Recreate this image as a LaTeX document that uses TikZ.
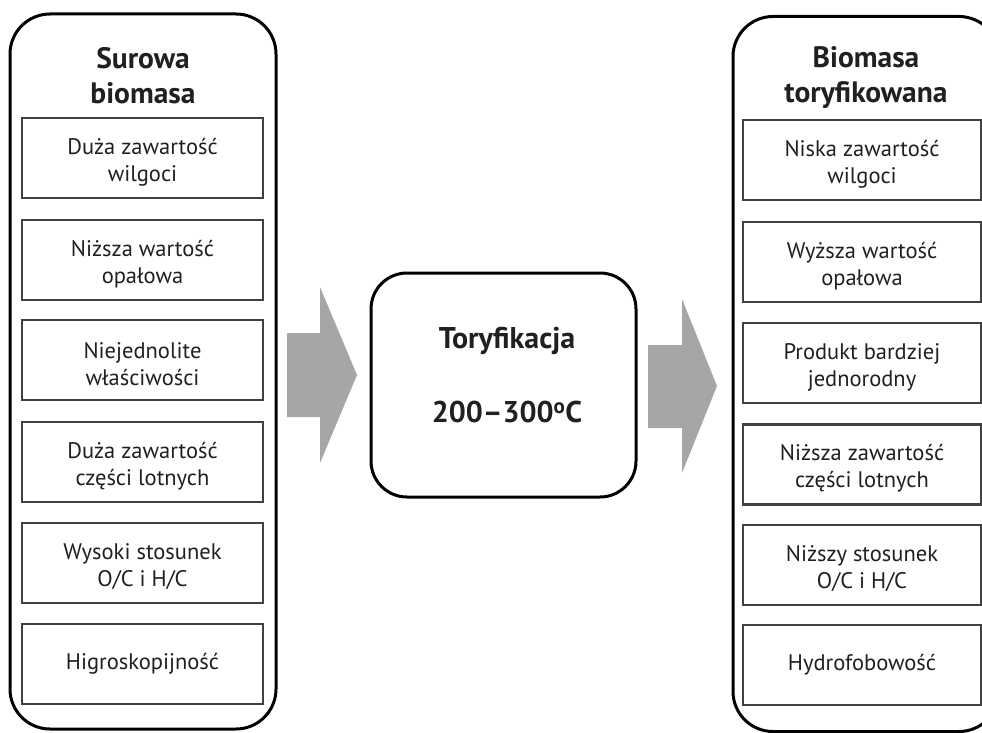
\documentclass[tikz,border=0pt]{standalone}
\usepackage{fontspec}
\setmainfont{PT Sans}
\definecolor{arrowgray}{HTML}{A6A6A6}
\definecolor{boxgray}{HTML}{404040}
\definecolor{textdark}{HTML}{231F20}
\tikzset{
  panel/.style={draw=black, line width=3pt, rounded corners=40pt, minimum width=266pt, minimum height=715pt, inner sep=0pt},
  item/.style={draw=boxgray, line width=2.5pt, minimum height=80pt, align=center, font=\fontsize{22.5}{27}\selectfont, text=textdark, inner sep=0pt},
  twoline/.style={label={[font=\fontsize{22.5}{27}\selectfont, text=textdark, align=center, yshift=-4pt]center:#1}},
  title/.style={align=center, font=\fontsize{29.5}{35}\selectfont\bfseries, text=textdark},
  proc/.style={draw=black, line width=3pt, rounded corners=36pt, minimum width=265pt, minimum height=224pt, inner sep=0pt},
  proctext/.style={font=\fontsize{30}{34}\selectfont\bfseries, text=textdark},
  blockarrow/.style={fill=arrowgray, draw=none}
}
\begin{document}
\begin{tikzpicture}[x=1pt,y=-1pt]
\clip (0,0) rectangle (982,733);
\fill[white] (0,0) rectangle (982,733);
% panels
\node[panel] (left) at (143,371.5) {};
\node[panel] (right) at (866,374) {};
\node[title] (lt) at (143,76) {Surowa\\biomasa};
\node[title] (rt) at (866,78) {Biomasa\\toryfikowana};
% left items
\node[item, minimum width=241pt, twoline={Duża zawartość\\wilgoci}] (l1) at (142.5,158) {};
\node[item, minimum width=241pt, twoline={Niższa wartość\\opałowa}] (l2) at (142.5,260) {};
\node[item, minimum width=241pt, twoline={Niejednolite\\właściwości}] (l3) at (142.5,360) {};
\node[item, minimum width=241pt, twoline={Duża zawartość\\części lotnych}] (l4) at (142.5,462) {};
\node[item, minimum width=241pt, twoline={Wysoki stosunek\\O/C i H/C}] (l5) at (142.5,563) {};
\node[item, minimum width=241pt] (l6) at (142.5,664) {Higroskopijność};
% right items
\node[item, minimum width=238pt, twoline={Niska zawartość\\wilgoci}] (r1) at (862,160) {};
\node[item, minimum width=238pt, twoline={Wyższa wartość\\opałowa}] (r2) at (862,262) {};
\node[item, minimum width=238pt, twoline={Produkt bardziej\\jednorodny}] (r3) at (862,363) {};
\node[item, minimum width=238pt, twoline={Niższa zawartość\\części lotnych}] (r4) at (862,464.5) {};
\node[item, minimum width=238pt, twoline={Niższy stosunek\\O/C i H/C}] (r5) at (862,565) {};
\node[item, minimum width=238pt] (r6) at (862,665) {Hydrofobowość};
% process
\node[proc] (proc) at (503.5,385) {};
\node[proctext] (pt) at (507,341) {Toryfikacja};
\node[proctext] (pc) at (507,412) {200–300\textsuperscript{o}C};
% block arrows
\fill[blockarrow] (287,333) -- (320,333) -- (320,287) -- (357,375) -- (320,463) -- (320,417) -- (287,417) -- cycle;
\fill[blockarrow] (648,345) -- (682,345) -- (682,299) -- (717,386) -- (682,473) -- (682,428) -- (648,428) -- cycle;
\end{tikzpicture}
\end{document}
